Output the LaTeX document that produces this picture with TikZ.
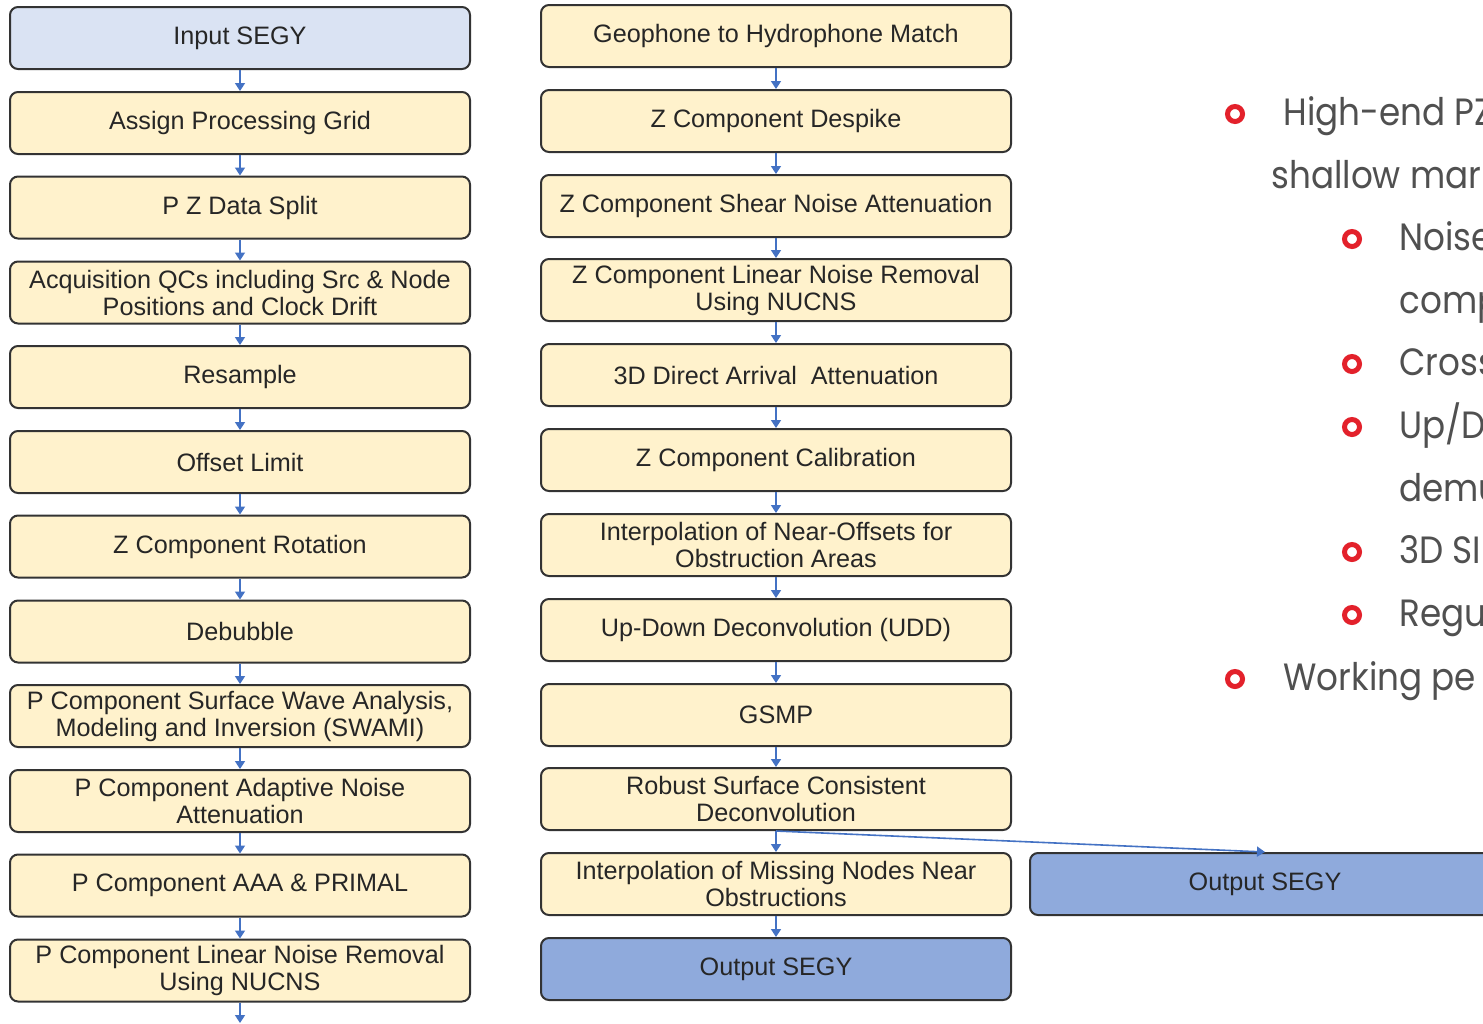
\documentclass[tikz,border=0pt]{standalone}
\usepackage{fontspec}
\setmainfont{Liberation Sans}
\newfontfamily\bulfont[FakeStretch=0.9]{Poppins}
\usetikzlibrary{arrows.meta}
\definecolor{boxyellow}{HTML}{FFF2CC}
\definecolor{boxblue}{HTML}{DAE3F3}
\definecolor{outblue}{HTML}{8FAADC}
\definecolor{arrblue}{HTML}{4472C4}
\definecolor{edgegray}{HTML}{333333}
\definecolor{bulred}{HTML}{E3212B}
\definecolor{bultext}{HTML}{505050}
\begin{document}
\begin{tikzpicture}[x=0.5pt,y=-0.5pt,
  stepbox/.style={draw=edgegray, line width=1pt, rounded corners=4pt, fill=boxyellow,
    minimum height=31pt, inner sep=0pt, align=center,
    font=\fontsize{12.6}{13.5}\selectfont, text=black!85},
  leftbox/.style={stepbox, minimum width=230pt},
  rightbox/.style={stepbox, minimum width=235pt},
  inbox/.style={fill=boxblue},
  outbox/.style={fill=outblue},
  arr/.style={draw=arrblue, line width=0.8pt, -{Triangle[width=5pt,length=4pt]}},
  bulring/.style={circle, draw=bulred, line width=2.5pt, minimum size=7.5pt, inner sep=0pt},
  bultxt/.style={anchor=base west, inner sep=0pt, text=bultext, font=\bulfont\fontsize{19}{22}\selectfont}
]
\useasboundingbox (0,0) rectangle (1483,1023);
\clip (0,0) rectangle (1483,1023);
\fill[white] (0,0) rectangle (1483,1023);

% left column
\node[leftbox,inbox] (l1) at (240,38) {Input SEGY};
\node[leftbox] (l2) at (240,123) {Assign Processing Grid};
\node[leftbox] (l3) at (240,207.5) {P Z Data Split};
\node[leftbox] (l4) at (240,292.5) {Acquisition QCs including Src \& Node\\Positions and Clock Drift};
\node[leftbox] (l5) at (240,377) {Resample};
\node[leftbox] (l6) at (240,462) {Offset Limit};
\node[leftbox] (l7) at (240,546.5) {Z Component Rotation};
\node[leftbox] (l8) at (240,631.5) {Debubble};
\node[leftbox] (l9) at (240,716) {P Component Surface Wave Analysis,\\Modeling and Inversion (SWAMI)};
\node[leftbox] (l10) at (240,801) {P Component Adaptive Noise\\Attenuation};
\node[leftbox] (l11) at (240,885.5) {P Component AAA \& PRIMAL};
\node[leftbox] (l12) at (240,970.5) {P Component Linear Noise Removal\\Using NUCNS};
\coordinate (lend) at (240,1023);

% right column
\node[rightbox] (r1) at (776,36) {Geophone to Hydrophone Match};
\node[rightbox] (r2) at (776,121) {Z Component Despike};
\node[rightbox] (r3) at (776,206) {Z Component Shear Noise Attenuation};
\node[rightbox] (r4) at (776,290) {Z Component Linear Noise Removal\\Using NUCNS};
\node[rightbox] (r5) at (776,375) {3D Direct Arrival\ \ Attenuation};
\node[rightbox] (r6) at (776,460) {Z Component Calibration};
\node[rightbox] (r7) at (776,545) {Interpolation of Near-Offsets for\\Obstruction Areas};
\node[rightbox] (r8) at (776,630) {Up-Down Deconvolution (UDD)};
\node[rightbox] (r9) at (776,715) {GSMP};
\node[rightbox] (r10) at (776,799) {Robust Surface Consistent\\Deconvolution};
\node[rightbox] (r11) at (776,884) {Interpolation of Missing Nodes Near\\Obstructions};
\node[rightbox,outbox] (r12) at (776,969) {Output SEGY};
\node[rightbox,outbox] (o3) at (1265,884) {Output SEGY};

% connectors
\foreach \a/\b in {l1/l2,l2/l3,l3/l4,l4/l5,l5/l6,l6/l7,l7/l8,l8/l9,l9/l10,l10/l11,l11/l12,
  r1/r2,r2/r3,r3/r4,r4/r5,r5/r6,r6/r7,r7/r8,r8/r9,r9/r10,r10/r11,r11/r12}
  \draw[arr] (\a.south) -- (\b.north);
\draw[arr] (l12.south) -- (lend);
\draw[arr] (r10.south) -- (o3.north);

% bullet text
\node[bulring] (b1) at (1235,114) {};
\node[bultxt] (t1) at (1283,125) {High-end PZ};
\node[bultxt] (t1b) at (1271,188) {shallow mari};
\node[bulring] (b2) at (1352,239) {};
\node[bultxt] (t2) at (1399,250) {Noise};
\node[bultxt] (t2b) at (1399,313) {comp};
\node[bulring] (b3) at (1352,364) {};
\node[bultxt] (t3) at (1399,375) {Cross};
\node[bulring] (b4) at (1352,427) {};
\node[bultxt] (t4) at (1399,438) {Up/D};
\node[bultxt] (t4b) at (1399,501) {demu};
\node[bulring] (b5) at (1352,552) {};
\node[bultxt] (t5) at (1399,563) {3D SI};
\node[bulring] (b6) at (1352,615) {};
\node[bultxt] (t6) at (1399,626) {Regu};
\node[bulring] (b7) at (1235,679) {};
\node[bultxt] (t7) at (1283,690) {Working pe};
\end{tikzpicture}
\end{document}
